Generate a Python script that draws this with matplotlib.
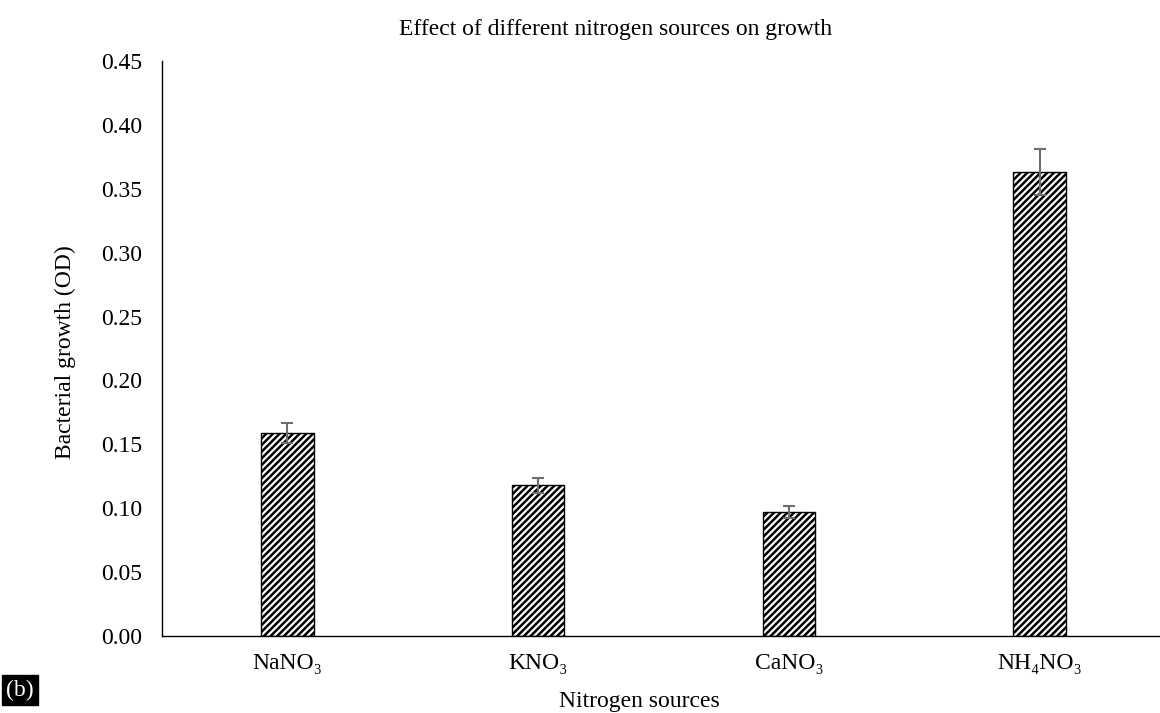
import matplotlib.pyplot as plt
import numpy as np

plt.rcParams['font.family'] = ['Liberation Serif', 'DejaVu Serif']
plt.rcParams['hatch.linewidth'] = 1.8

sources = ['NaNO₃', 'KNO₃', 'CaNO₃', 'NH₄NO₃']
growth = [0.159, 0.118, 0.097, 0.363]
err = [0.008, 0.006, 0.005, 0.018]

W, H = 1160, 713
fig = plt.figure(figsize=(W / 100, H / 100), dpi=100)
ax = fig.add_axes([162 / W, 1 - 636 / H, (1165 - 162) / W, 575 / H])

x = np.arange(len(sources))
ax.bar(x, growth, width=0.21, color='white', edgecolor='black', hatch='/////', linewidth=1.0, zorder=2)
ax.errorbar(x, growth, yerr=err, fmt='none', ecolor='#6e6e6e', elinewidth=1.5, capsize=4, capthick=1.5, zorder=3)

yt = np.arange(0, 0.451, 0.05)
ax.set_xlim(-0.5, 3.5)
ax.set_ylim(0, 0.45)
ax.set_yticks(yt)
ax.set_yticklabels([f'{v:.2f}' for v in yt])
ax.set_xticks(x)
ax.set_xticklabels(sources)
ax.tick_params(axis='both', length=0, labelsize=17)
ax.tick_params(axis='y', pad=14.5)
ax.tick_params(axis='x', pad=12)
for s in ['top', 'right']:
    ax.spines[s].set_visible(False)
ax.spines['left'].set_linewidth(1.0)
ax.spines['bottom'].set_linewidth(1.0)

# titles and axis labels placed in figure pixels
fig.text(616 / W, 1 - 30 / H, 'Effect of different nitrogen sources on growth', fontsize=17, ha='center', va='center')
fig.text(65 / W, 1 - 352 / H, 'Bacterial growth (OD)', fontsize=17, rotation=90, ha='center', va='center')
fig.text(639 / W, 1 - 702 / H, 'Nitrogen sources', fontsize=17, ha='center', va='center')

fig.text(20 / W, 1 - 690 / H, '(b)', fontsize=17, color='white', ha='center', va='center',
         bbox=dict(facecolor='black', edgecolor='black', pad=3))

fig.savefig('out.png', dpi=100)
